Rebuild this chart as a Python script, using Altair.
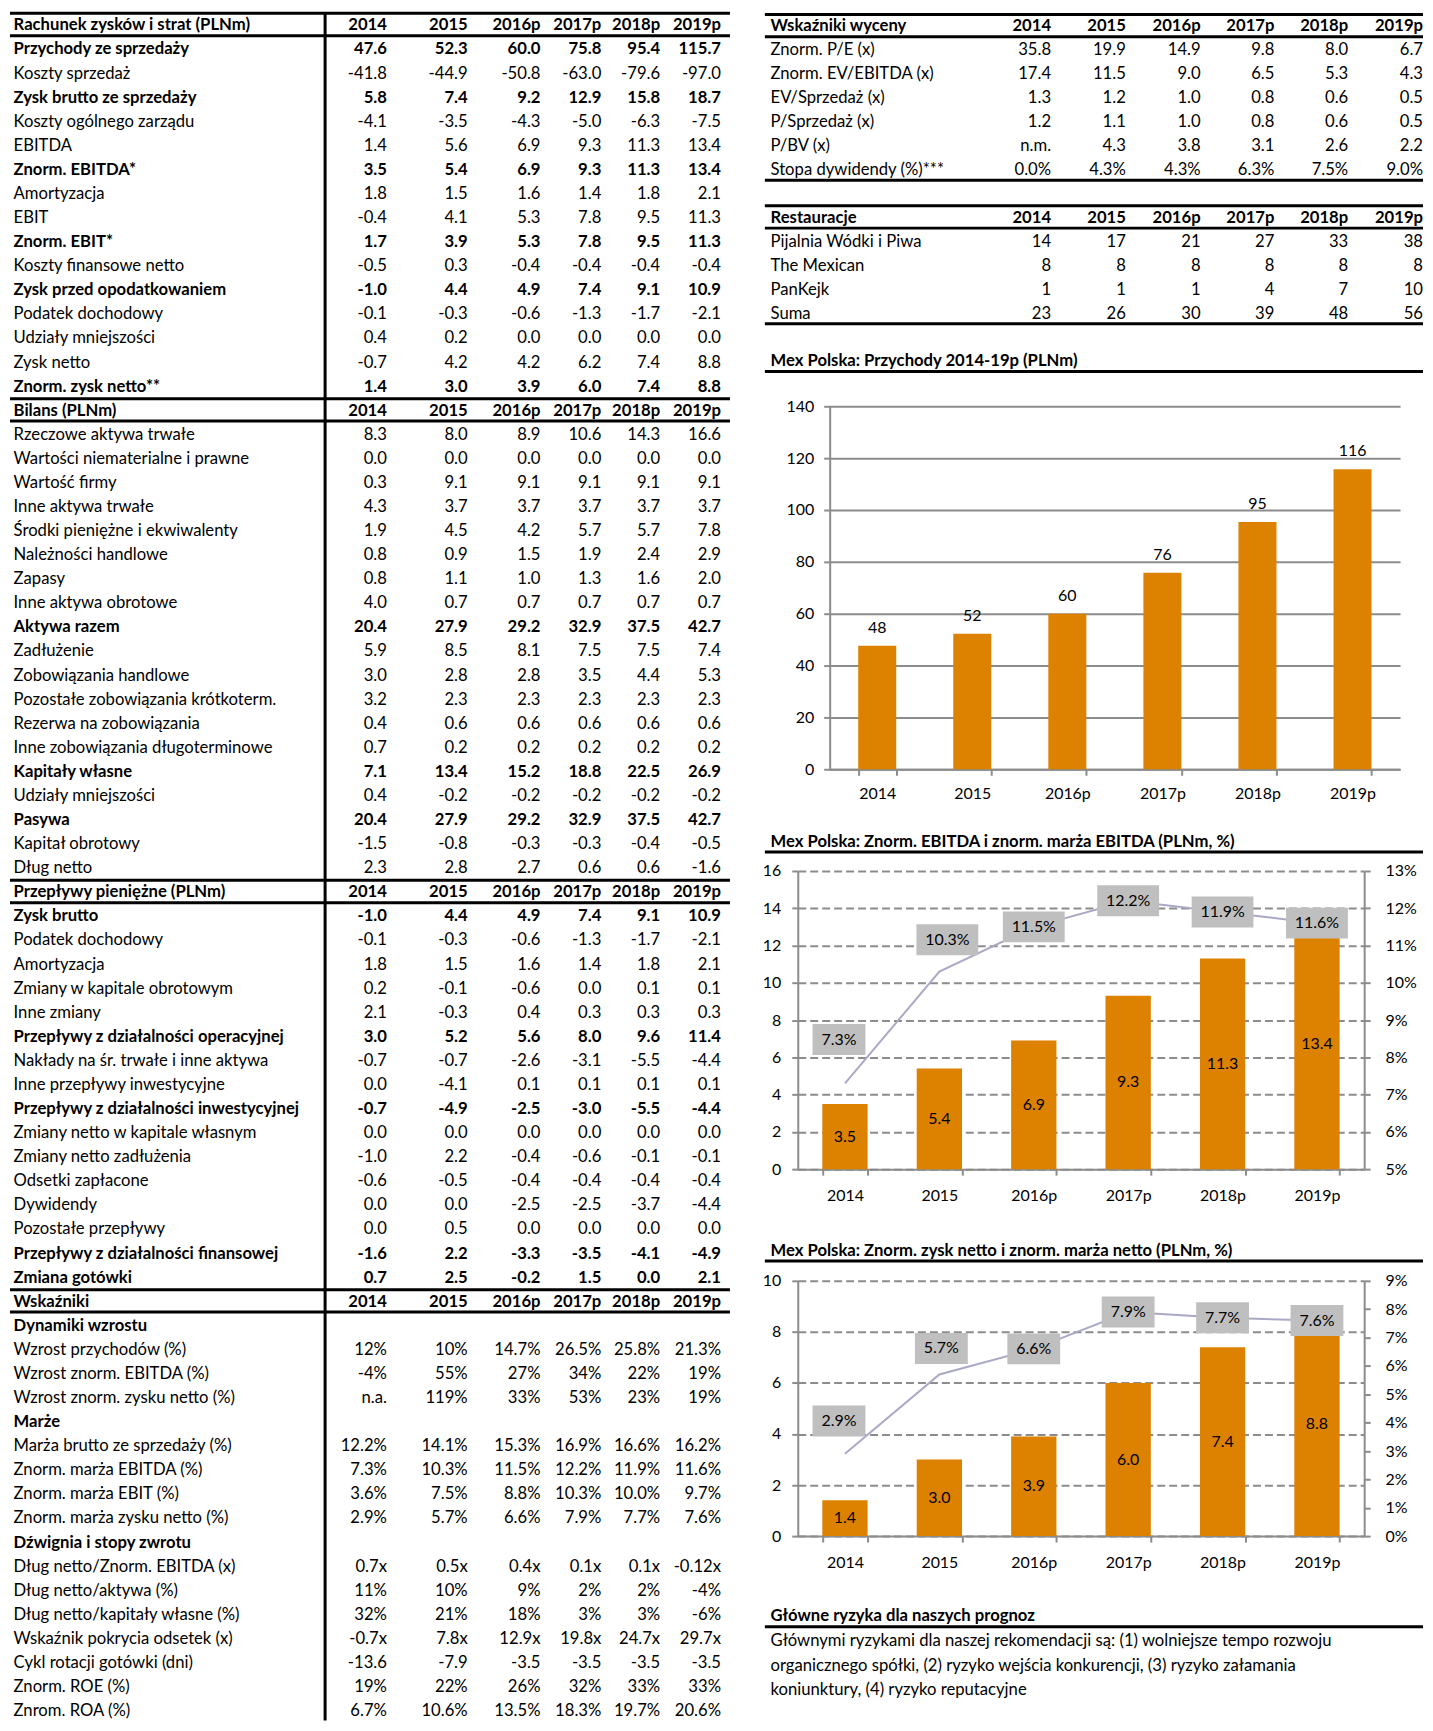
import altair as alt
import pandas as pd

# ---------------------------------------------------------------- data
YEARS = ["2014", "2015", "2016p", "2017p", "2018p", "2019p"]

PL_TITLE = "Rachunek zysków i strat (PLNm)"
PL_LABELS = ["Przychody ze sprzedaży", "Koszty sprzedaż", "Zysk brutto ze sprzedaży",
             "Koszty ogólnego zarządu", "EBITDA", "Znorm. EBITDA*", "Amortyzacja", "EBIT",
             "Znorm. EBIT*", "Koszty finansowe netto", "Zysk przed opodatkowaniem",
             "Podatek dochodowy", "Udziały mniejszości", "Zysk netto", "Znorm. zysk netto**"]
PL_VALUES = [
    [47.6, 52.3, 60.0, 75.8, 95.4, 115.7],
    [-41.8, -44.9, -50.8, -63.0, -79.6, -97.0],
    [5.8, 7.4, 9.2, 12.9, 15.8, 18.7],
    [-4.1, -3.5, -4.3, -5.0, -6.3, -7.5],
    [1.4, 5.6, 6.9, 9.3, 11.3, 13.4],
    [3.5, 5.4, 6.9, 9.3, 11.3, 13.4],
    [1.8, 1.5, 1.6, 1.4, 1.8, 2.1],
    [-0.4, 4.1, 5.3, 7.8, 9.5, 11.3],
    [1.7, 3.9, 5.3, 7.8, 9.5, 11.3],
    [-0.5, 0.3, -0.4, -0.4, -0.4, -0.4],
    [-1.0, 4.4, 4.9, 7.4, 9.1, 10.9],
    [-0.1, -0.3, -0.6, -1.3, -1.7, -2.1],
    [0.4, 0.2, 0.0, 0.0, 0.0, 0.0],
    [-0.7, 4.2, 4.2, 6.2, 7.4, 8.8],
    [1.4, 3.0, 3.9, 6.0, 7.4, 8.8],
]

BS_TITLE = "Bilans (PLNm)"
BS_LABELS = ["Rzeczowe aktywa trwałe", "Wartości niematerialne i prawne", "Wartość firmy",
             "Inne aktywa trwałe", "Środki pieniężne i ekwiwalenty", "Należności handlowe",
             "Zapasy", "Inne aktywa obrotowe", "Aktywa razem", "Zadłużenie",
             "Zobowiązania handlowe", "Pozostałe zobowiązania krótkoterm.",
             "Rezerwa na zobowiązania", "Inne zobowiązania długoterminowe", "Kapitały własne",
             "Udziały mniejszości", "Pasywa", "Kapitał obrotowy", "Dług netto"]
BS_VALUES = [
    [8.3, 8.0, 8.9, 10.6, 14.3, 16.6],
    [0.0, 0.0, 0.0, 0.0, 0.0, 0.0],
    [0.3, 9.1, 9.1, 9.1, 9.1, 9.1],
    [4.3, 3.7, 3.7, 3.7, 3.7, 3.7],
    [1.9, 4.5, 4.2, 5.7, 5.7, 7.8],
    [0.8, 0.9, 1.5, 1.9, 2.4, 2.9],
    [0.8, 1.1, 1.0, 1.3, 1.6, 2.0],
    [4.0, 0.7, 0.7, 0.7, 0.7, 0.7],
    [20.4, 27.9, 29.2, 32.9, 37.5, 42.7],
    [5.9, 8.5, 8.1, 7.5, 7.5, 7.4],
    [3.0, 2.8, 2.8, 3.5, 4.4, 5.3],
    [3.2, 2.3, 2.3, 2.3, 2.3, 2.3],
    [0.4, 0.6, 0.6, 0.6, 0.6, 0.6],
    [0.7, 0.2, 0.2, 0.2, 0.2, 0.2],
    [7.1, 13.4, 15.2, 18.8, 22.5, 26.9],
    [0.4, -0.2, -0.2, -0.2, -0.2, -0.2],
    [20.4, 27.9, 29.2, 32.9, 37.5, 42.7],
    [-1.5, -0.8, -0.3, -0.3, -0.4, -0.5],
    [2.3, 2.8, 2.7, 0.6, 0.6, -1.6],
]

CF_TITLE = "Przepływy pieniężne (PLNm)"
CF_LABELS = ["Zysk brutto", "Podatek dochodowy", "Amortyzacja", "Zmiany w kapitale obrotowym",
             "Inne zmiany", "Przepływy z działalności operacyjnej",
             "Nakłady na śr. trwałe i inne aktywa", "Inne przepływy inwestycyjne",
             "Przepływy z działalności inwestycyjnej", "Zmiany netto w kapitale własnym",
             "Zmiany netto zadłużenia", "Odsetki zapłacone", "Dywidendy", "Pozostałe przepływy",
             "Przepływy z działalności finansowej", "Zmiana gotówki"]
CF_VALUES = [
    [-1.0, 4.4, 4.9, 7.4, 9.1, 10.9],
    [-0.1, -0.3, -0.6, -1.3, -1.7, -2.1],
    [1.8, 1.5, 1.6, 1.4, 1.8, 2.1],
    [0.2, -0.1, -0.6, 0.0, 0.1, 0.1],
    [2.1, -0.3, 0.4, 0.3, 0.3, 0.3],
    [3.0, 5.2, 5.6, 8.0, 9.6, 11.4],
    [-0.7, -0.7, -2.6, -3.1, -5.5, -4.4],
    [0.0, -4.1, 0.1, 0.1, 0.1, 0.1],
    [-0.7, -4.9, -2.5, -3.0, -5.5, -4.4],
    [0.0, 0.0, 0.0, 0.0, 0.0, 0.0],
    [-1.0, 2.2, -0.4, -0.6, -0.1, -0.1],
    [-0.6, -0.5, -0.4, -0.4, -0.4, -0.4],
    [0.0, 0.0, -2.5, -2.5, -3.7, -4.4],
    [0.0, 0.5, 0.0, 0.0, 0.0, 0.0],
    [-1.6, 2.2, -3.3, -3.5, -4.1, -4.9],
    [0.7, 2.5, -0.2, 1.5, 0.0, 2.1],
]

RAT_TITLE = "Wskaźniki"
RAT_LABELS = ["Dynamiki wzrostu", "Wzrost przychodów (%)", "Wzrost znorm. EBITDA (%)",
              "Wzrost znorm. zysku netto (%)", "Marże", "Marża brutto ze sprzedaży (%)",
              "Znorm. marża EBITDA (%)", "Znorm. marża EBIT (%)", "Znorm. marża zysku netto (%)",
              "Dźwignia i stopy zwrotu", "Dług netto/Znorm. EBITDA (x)", "Dług netto/aktywa (%)",
              "Dług netto/kapitały własne (%)", "Wskaźnik pokrycia odsetek (x)",
              "Cykl rotacji gotówki (dni)", "Znorm. ROE (%)", "Znrom. ROA (%)"]
RAT_VALUES = [
    [],
    ["12%", "10%", "14.7%", "26.5%", "25.8%", "21.3%"],
    ["-4%", "55%", "27%", "34%", "22%", "19%"],
    ["n.a.", "119%", "33%", "53%", "23%", "19%"],
    [],
    ["12.2%", "14.1%", "15.3%", "16.9%", "16.6%", "16.2%"],
    ["7.3%", "10.3%", "11.5%", "12.2%", "11.9%", "11.6%"],
    ["3.6%", "7.5%", "8.8%", "10.3%", "10.0%", "9.7%"],
    ["2.9%", "5.7%", "6.6%", "7.9%", "7.7%", "7.6%"],
    [],
    ["0.7x", "0.5x", "0.4x", "0.1x", "0.1x", "-0.12x"],
    ["11%", "10%", "9%", "2%", "2%", "-4%"],
    ["32%", "21%", "18%", "3%", "3%", "-6%"],
    ["-0.7x", "7.8x", "12.9x", "19.8x", "24.7x", "29.7x"],
    ["-13.6", "-7.9", "-3.5", "-3.5", "-3.5", "-3.5"],
    ["19%", "22%", "26%", "32%", "33%", "33%"],
    ["6.7%", "10.6%", "13.5%", "18.3%", "19.7%", "20.6%"],
]

VAL_TITLE = "Wskaźniki wyceny"
VAL_LABELS = ["Znorm. P/E (x)", "Znorm. EV/EBITDA (x)", "EV/Sprzedaż (x)", "P/Sprzedaż (x)",
              "P/BV (x)", "Stopa dywidendy (%)***"]
VAL_VALUES = [
    [35.8, 19.9, 14.9, 9.8, 8.0, 6.7],
    [17.4, 11.5, 9.0, 6.5, 5.3, 4.3],
    [1.3, 1.2, 1.0, 0.8, 0.6, 0.5],
    [1.2, 1.1, 1.0, 0.8, 0.6, 0.5],
    ["n.m.", 4.3, 3.8, 3.1, 2.6, 2.2],
    ["0.0%", "4.3%", "4.3%", "6.3%", "7.5%", "9.0%"],
]

REST_TITLE = "Restauracje"
REST_LABELS = ["Pijalnia Wódki i Piwa", "The Mexican", "PanKejk", "Suma"]
REST_VALUES = [
    [14, 17, 21, 27, 33, 38],
    [8, 8, 8, 8, 8, 8],
    [1, 1, 1, 4, 7, 10],
    [23, 26, 30, 39, 48, 56],
]

REVENUE = [47.6, 52.3, 60.0, 75.8, 95.4, 115.7]
EBITDA_N = [3.5, 5.4, 6.9, 9.3, 11.3, 13.4]
EBITDA_MARGIN = [7.3, 10.3, 11.5, 12.2, 11.9, 11.6]
NET_N = [1.4, 3.0, 3.9, 6.0, 7.4, 8.8]
NET_MARGIN = [2.9, 5.7, 6.6, 7.9, 7.7, 7.6]

CH1_TITLE = "Mex Polska: Przychody 2014-19p (PLNm)"
CH2_TITLE = "Mex Polska: Znorm. EBITDA i znorm. marża EBITDA (PLNm, %)"
CH3_TITLE = "Mex Polska: Znorm. zysk netto i znorm. marża netto (PLNm, %)"
RISK_TITLE = "Główne ryzyka dla naszych prognoz"
RISK_LINES = [
    "Głównymi ryzykami dla naszej rekomendacji są: (1) wolniejsze tempo rozwoju",
    "organicznego spółki, (2) ryzyko wejścia konkurencji, (3) ryzyko załamania",
    "koniunktury, (4) ryzyko reputacyjne",
]

# ---------------------------------------------------------------- style
FONT = "Lato"
FS = 16        # chart text
FT = 16.7      # table text
ORANGE = "#DC8200"
GRID = "#8C8C8C"
BOX = "#BFBFBF"
LINEC = "#A9A9C6"
RW = 660  # right column width

BOLD = {"Przychody ze sprzedaży", "Zysk brutto ze sprzedaży", "Znorm. EBITDA*", "Znorm. EBIT*",
        "Zysk przed opodatkowaniem", "Znorm. zysk netto**", "Aktywa razem", "Kapitały własne",
        "Pasywa", "Zysk brutto", "Przepływy z działalności operacyjnej",
        "Przepływy z działalności inwestycyjnej", "Przepływy z działalności finansowej",
        "Zmiana gotówki", "Dynamiki wzrostu", "Marże", "Dźwignia i stopy zwrotu"}


def fmt(v):
    if isinstance(v, str):
        return v
    if isinstance(v, int):
        return str(v)
    return f"{v:.1f}"


def add_section(cells, rules, r, title, labels, values, bottom=False):
    cells.append((r, 0, title, 1))
    for j, y in enumerate(YEARS):
        cells.append((r, j + 1, y, 1))
    rules += [r - 0.5, r + 0.43]
    for i, (lab, vals) in enumerate(zip(labels, values)):
        rr = r + 1 + i
        b = 1 if lab in BOLD else 0
        cells.append((rr, 0, lab, b))
        for j, v in enumerate(vals):
            cells.append((rr, j + 1, fmt(v), b))
    last = r + len(labels)
    if bottom:
        rules.append(last + 0.43)
    return last + 1


def table_chart(cells, rules, x_range, y_dom, y_rng, width, height, vline=None):
    df = pd.DataFrame(cells, columns=["r", "col", "text", "bold"])
    xs = alt.Scale(domain=list(range(7)), range=x_range, nice=False, zero=False)
    ys = alt.Scale(domain=y_dom, range=y_rng, nice=False, zero=False)
    X = alt.X("col:Q", scale=xs, axis=None)
    Y = alt.Y("r:Q", scale=ys, axis=None)
    layers = []
    for is_label in (True, False):
        for bold in (1, 0):
            test = f"datum.col {'==' if is_label else '>'} 0 && datum.bold == {bold}"
            layers.append(
                alt.Chart(df).transform_filter(test).mark_text(
                    align="left" if is_label else "right", baseline="middle", font=FONT,
                    fontSize=FT, fontWeight="bold" if bold else "normal", color="black"
                ).encode(x=X, y=Y, text="text:N"))
    rdf = pd.DataFrame({"r": rules})
    layers.append(alt.Chart(rdf).mark_rule(color="black", strokeWidth=3).encode(
        y=Y, x=alt.value(0), x2=alt.value(width)))
    if vline is not None:
        vdf = pd.DataFrame({"r": [rules[0]]})
        layers.append(alt.Chart(vdf).mark_rule(color="black", strokeWidth=3).encode(
            y=Y, y2=alt.value(height), x=alt.value(vline)))
    return alt.layer(*layers).properties(width=width, height=height)


def x_axis(pad):
    return alt.Axis(labelAngle=0, tickBand="extent", domainColor=GRID, domainWidth=2,
                    tickColor=GRID, tickWidth=2, tickSize=6, labelPadding=pad, grid=False,
                    labelFont=FONT, labelFontSize=FS, labelColor="black", title=None)


def y_axis(values, pad, offset, orient="left", grid=True, dashed=False, fmt_=None):
    kw = dict(values=values, orient=orient, grid=grid, domainColor=GRID, domainWidth=2,
              tickColor=GRID, tickWidth=2, tickSize=6, labelPadding=pad, labelFont=FONT,
              labelFontSize=FS, labelColor="black", title=None, offset=offset)
    if grid:
        kw.update(gridColor=GRID, gridWidth=2)
    if dashed:
        kw["gridDash"] = [8, 4]
    if fmt_:
        kw["format"] = fmt_
    return alt.Axis(**kw)


def text_layers(items, x0=5.7):
    out = []
    for text, y, bold in items:
        out.append(alt.Chart(pd.DataFrame({"t": [text]})).mark_text(
            align="left", baseline="middle", font=FONT, fontSize=FT,
            fontWeight="bold" if bold else "normal", color="black"
        ).encode(x=alt.value(x0), y=alt.value(y), text="t:N"))
    return out


def rule_at(y, width):
    return alt.Chart(pd.DataFrame({"a": [0]})).mark_rule(color="black", strokeWidth=3).encode(
        x=alt.value(0), x2=alt.value(width), y=alt.value(y))


# ---------------------------------------------------------------- left table
lc, lr = [], []
r = 0
r = add_section(lc, lr, r, PL_TITLE, PL_LABELS, PL_VALUES)
r = add_section(lc, lr, r, BS_TITLE, BS_LABELS, BS_VALUES)
r = add_section(lc, lr, r, CF_TITLE, CF_LABELS, CF_VALUES)
r = add_section(lc, lr, r, RAT_TITLE, RAT_LABELS, RAT_VALUES)
left = table_chart(lc, lr, [3.6, 378, 459, 532, 593, 652, 713], [0, 70], [15, 15 + 70 * 24.15],
                   722, 1715, vline=316)

# ---------------------------------------------------------------- right top tables
rc, rr_ = [], []
r = add_section(rc, rr_, 0, VAL_TITLE, VAL_LABELS, VAL_VALUES, bottom=True)
r = add_section(rc, rr_, r + 1, REST_TITLE, REST_LABELS, REST_VALUES, bottom=True)
rc.append((r + 1, 0, CH1_TITLE, 1))
rr_.append(r + 1 + 0.42)
top_block = table_chart(rc, rr_, [5.7, 287, 362, 437, 511, 585, 660], [0, 14], [16, 352], RW, 397)

# ---------------------------------------------------------------- chart 1
C1_X = [65, 637]
rev_df = pd.DataFrame({"year": YEARS, "value": REVENUE})
X1 = alt.X("year:N", sort=YEARS,
           scale=alt.Scale(paddingInner=0.6, paddingOuter=0.3, range=C1_X), axis=x_axis(10))
Y1 = alt.Y("value:Q", scale=alt.Scale(domain=[0, 140], nice=False),
           axis=y_axis(list(range(0, 141, 20)), 10, -C1_X[0]))
chart1 = alt.layer(
    alt.Chart(rev_df).mark_bar(color=ORANGE).encode(x=X1, y=Y1),
    alt.Chart(rev_df).mark_text(baseline="bottom", dy=-10, font=FONT, fontSize=FS, color="black").encode(
        x=X1, y=Y1, text=alt.Text("value:Q", format=".0f")),
).properties(width=RW, height=364)


# ---------------------------------------------------------------- combo charts
def combo(values, margins, ymax, mdom, mvals, xr, height, shifts):
    df = pd.DataFrame({"year": YEARS, "value": values, "margin": margins})
    X = alt.X("year:N", sort=YEARS,
              scale=alt.Scale(paddingInner=0.52, paddingOuter=0.26, range=xr), axis=x_axis(12))
    lax = y_axis(list(range(0, ymax + 1, 2)), 11, -xr[0], dashed=True)
    Yl = alt.Y("value:Q", scale=alt.Scale(domain=[0, ymax], nice=False), axis=lax)
    Ym = alt.Y("mid:Q", scale=alt.Scale(domain=[0, ymax], nice=False), axis=lax)
    bars = alt.Chart(df).mark_bar(color=ORANGE).encode(x=X, y=Yl)
    blab = alt.Chart(df).transform_calculate(mid="datum.value / 2").mark_text(
        font=FONT, fontSize=FS, color="black", baseline="middle").encode(
        x=X, y=Ym, text=alt.Text("value:Q", format=".1f"))
    mdf = alt.Chart(df).transform_calculate(
        m="datum.margin / 100", lab="format(datum.margin / 100, '.1%')")
    Yr = alt.Y("m:Q", scale=alt.Scale(domain=mdom, nice=False, zero=False),
               axis=y_axis(mvals, 15, -(RW - xr[1]), orient="right", grid=False, fmt_=".0%"))
    line = mdf.mark_line(color=LINEC, strokeWidth=2).encode(x=X, y=Yr)
    long_ = "length(datum.lab) > 4"
    p4 = "M-1,-0.585L1,-0.585L1,0.585L-1,0.585Z"
    p5 = "M-1,-0.5L1,-0.5L1,0.5L-1,0.5Z"
    others = [y for y in YEARS if y not in shifts]
    groups = [([y], dx, dy) for y, (dx, dy) in shifts.items()] + [(others, 0, 0)]
    boxes, texts = [], []
    for yrs, dx, dy in groups:
        sub = mdf.transform_filter(alt.FieldOneOfPredicate(field="year", oneOf=yrs))
        boxes.append(sub.mark_point(filled=True, color=BOX, opacity=1, strokeWidth=0,
                                    xOffset=dx, yOffset=dy).encode(
            x=X, y=Yr,
            shape=alt.condition(long_, alt.value(p5), alt.value(p4)),
            size=alt.condition(long_, alt.value(62 * 62), alt.value(53 * 53))))
        texts.append(sub.mark_text(dx=dx, dy=dy, font=FONT, fontSize=FS, color="black",
                                   baseline="middle").encode(x=X, y=Yr, text="lab:N"))
    return alt.layer(alt.layer(bars, blab), alt.layer(line, *boxes, *texts)).resolve_scale(
        y="independent").properties(width=RW, height=height)


chart2 = combo(EBITDA_N, EBITDA_MARGIN, 16, [0.05, 0.13], [round(0.05 + 0.01 * i, 2) for i in range(9)],
               [33, 601], 299, {"2014": (-6, -44), "2015": (8, -32)})
chart3 = combo(NET_N, NET_MARGIN, 10, [0.0, 0.09], [round(0.01 * i, 2) for i in range(10)],
               [33, 601], 256, {"2014": (-6, -33), "2015": (2, -26)})

mid2 = alt.layer(*text_layers([(CH2_TITLE, 73, True)]), rule_at(83, RW)).properties(width=RW, height=102)
mid3 = alt.layer(*text_layers([(CH3_TITLE, 82, True)]), rule_at(92, RW)).properties(width=RW, height=112)
bottom = alt.layer(*text_layers([(RISK_TITLE, 80, True), (RISK_LINES[0], 105, False),
                                 (RISK_LINES[1], 130, False), (RISK_LINES[2], 154, False)]),
                   rule_at(91, RW)).properties(width=RW, height=185)

right = alt.vconcat(top_block, chart1, mid2, chart2, mid3, chart3, bottom,
                    spacing=0, bounds="flush")

chart = alt.hconcat(left, right, spacing=35, bounds="flush").properties(
    padding=0, background="white").configure_view(stroke=None)

chart.save("out.html", embed_options={"renderer": "svg", "actions": False})
